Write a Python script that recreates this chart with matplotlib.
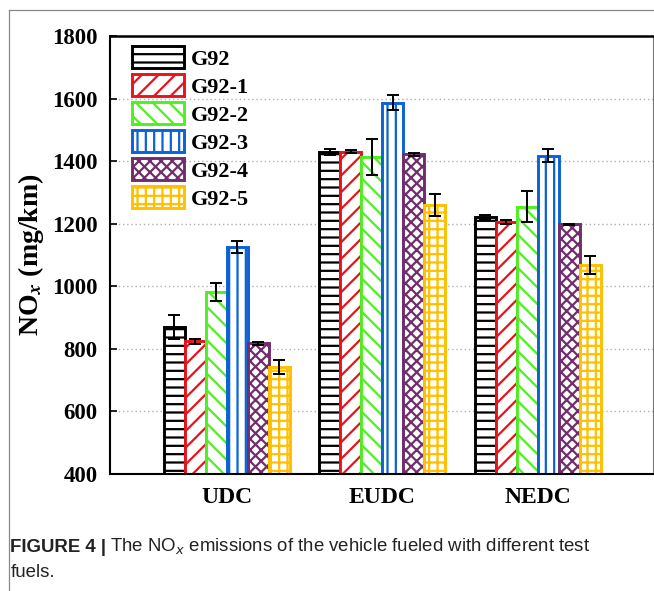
import matplotlib
matplotlib.use('Agg')
import matplotlib.pyplot as plt
from matplotlib.lines import Line2D
import numpy as np

cycles = ['UDC', 'EUDC', 'NEDC']
fuels = ['G92', 'G92-1', 'G92-2', 'G92-3', 'G92-4', 'G92-5']

# NOx (mg/km) per fuel, order UDC, EUDC, NEDC
nox = {
    'G92':   [870, 1430, 1222],
    'G92-1': [824, 1430, 1204],
    'G92-2': [981, 1414, 1254],
    'G92-3': [1125, 1587, 1417],
    'G92-4': [817, 1421, 1197],
    'G92-5': [740, 1259, 1067],
}
err = {
    'G92':   [38, 10, 6],
    'G92-1': [8, 4, 7],
    'G92-2': [30, 58, 49],
    'G92-3': [20, 24, 20],
    'G92-4': [5, 5, 2],
    'G92-5': [22, 35, 30],
}

colors = ['#000000', '#e8141c', '#4ef021', '#0a62d4', '#702e6c', '#ffc000']
hatches = ['--', '//', '\\\\', '||', 'xxx', '++']

plt.rcParams['hatch.linewidth'] = 1.6
serif = ['Liberation Serif', 'DejaVu Serif']
sans = ['Liberation Sans', 'DejaVu Sans']

fig = plt.figure(figsize=(6.54, 5.91), dpi=100)
ax = fig.add_axes([0.1682, 0.1988, 0.8303, 0.7402])

x = np.arange(1, len(cycles) + 1)
w = 0.135
for i, f in enumerate(fuels):
    pos = x + (i - 2.5) * w
    ax.bar(pos, nox[f], width=w, bottom=0, facecolor='white', edgecolor=colors[i],
           hatch=hatches[i], linewidth=2.1, label=f, zorder=2)
    ax.errorbar(pos, nox[f], yerr=err[f], fmt='none', ecolor='black',
                elinewidth=1.4, capsize=4.5, capthick=1.4, zorder=3)

ax.set_xlim(0.248, 3.74)
ax.set_ylim(400, 1800)
ax.set_yticks(np.arange(400, 1801, 200))
ax.set_xticks(x)
ax.set_xticklabels(cycles, fontsize=17, fontweight='bold', family=serif)
for lab in ax.get_yticklabels():
    lab.set_fontsize(16.5)
    lab.set_fontweight('bold')
    lab.set_family(serif)
ax.tick_params(axis='y', direction='in', length=5, width=1.2, pad=9)
ax.tick_params(axis='x', length=0, pad=10)
ax.yaxis.grid(True, linestyle=(0, (1, 2)), color='#b0b0b0', linewidth=1.0, zorder=0)
ax.set_axisbelow(True)

ax.spines['left'].set_linewidth(1.5)
ax.spines['bottom'].set_linewidth(1.5)
ax.spines['top'].set_linewidth(1.8)
ax.spines['right'].set_linewidth(0.8)
ax.spines['right'].set_color('#777777')

ax.set_ylabel(r'NO$_{\mathbfit{x}}$ (mg/km)', fontsize=20, fontweight='bold', family=serif,
              labelpad=4, math_fontfamily='stix')

leg = ax.legend(loc='upper left', bbox_to_anchor=(0.012, 1.012), frameon=False,
                prop={'family': serif, 'weight': 'bold', 'size': 16},
                handlelength=2.35, handleheight=1.15, labelspacing=0.2,
                handletextpad=0.3, borderaxespad=0.3)

# page frame
fig.add_artist(Line2D([0.0138, 0.0138], [0.0, 0.983], color='#888888', lw=0.9))
fig.add_artist(Line2D([0.0138, 1.0], [0.983, 0.983], color='#888888', lw=0.9))

# caption
renderer = fig.canvas.get_renderer()
t1 = fig.text(0.016, 0.066, 'FIGURE 4 |', fontsize=13.4, family=sans, weight='bold', color='#222222')
bb = t1.get_window_extent(renderer)
fig.text(bb.x1 / fig.bbox.width + 0.006, 0.066,
         'The NO$_x$ emissions of the vehicle fueled with different test',
         fontsize=13.4, family=sans, color='#222222', math_fontfamily='dejavusans')
fig.text(0.016, 0.024, 'fuels.', fontsize=13.4, family=sans, color='#222222')

fig.savefig('out.png', dpi=100)
